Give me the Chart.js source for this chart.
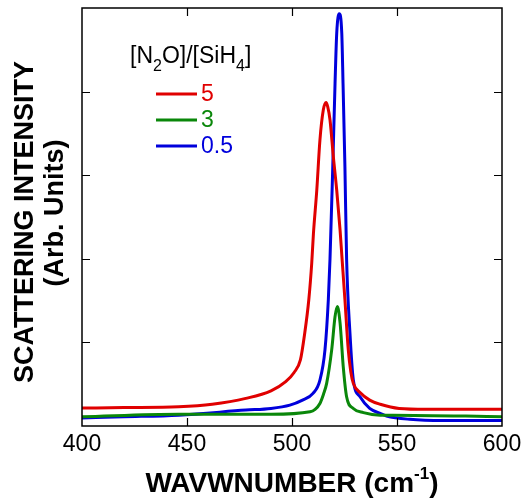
<!DOCTYPE html>
<html>
<head>
<meta charset="utf-8">
<script src="https://cdn.jsdelivr.net/npm/chart.js@4/dist/chart.umd.min.js"></script>
<style>
  html, body { margin: 0; padding: 0; background: #fff; }
  #wrap { width: 522px; height: 500px; }
</style>
</head>
<body>
<div id="wrap"><canvas id="ramanChart"></canvas></div>
<script>
// values (wavenumber in cm-1, intensity in arb. units)
const xTicks = [400, 450, 500, 550, 600];
const seriesNames = ["5", "3", "0.5"];
const seriesColors = ["#e00000", "#0a870a", "#0000dc"];

const redX = [400, 420, 446, 462, 478, 490, 497, 501, 504, 506, 508, 509.4, 510.2, 511.8, 513.3, 514.9, 516.2, 517, 518.1, 519.7, 521.3, 522.9, 523.7, 525.2, 526.8, 528, 529.2, 532.4, 537, 542, 551, 564, 600];
const redY = [0.215, 0.22, 0.23, 0.26, 0.33, 0.42, 0.53, 0.64, 0.79, 1.1, 1.51, 1.95, 2.3, 2.82, 3.42, 3.78, 3.87, 3.82, 3.66, 3.22, 2.82, 2.34, 2.05, 1.51, 0.91, 0.65, 0.51, 0.4, 0.31, 0.26, 0.21, 0.2, 0.2];

const greenX = [400, 446, 490, 508.6, 511, 513.3, 515, 516.5, 518.9, 520.5, 521.6, 522.9, 524.4, 526, 529.2, 534, 542, 548, 600];
const greenY = [0.11, 0.14, 0.14, 0.17, 0.2, 0.27, 0.38, 0.51, 0.91, 1.31, 1.43, 1.23, 0.71, 0.35, 0.21, 0.16, 0.13, 0.13, 0.11];

const blueX = [400, 420, 446, 478, 490, 499, 505, 510, 513.3, 515.7, 517.3, 518.1, 519.3, 520.5, 521.3, 522.5, 523.7, 524.3, 525.2, 526, 527.6, 529.2, 532.4, 537, 542, 545, 556, 572, 600];
const blueY = [0.096, 0.11, 0.13, 0.19, 0.21, 0.25, 0.31, 0.39, 0.55, 0.91, 1.51, 2.0, 3.0, 4.1, 4.7, 4.93, 4.7, 4.1, 3.1, 2.0, 1.11, 0.55, 0.35, 0.21, 0.15, 0.12, 0.08, 0.065, 0.065];

function toPoints(xs, ys) {
  return xs.map((x, i) => ({ x: x, y: ys[i] }));
}

const FONT = "Arial, 'Liberation Sans', sans-serif";

// frame, inward ticks, legend and axis titles
const decor = {
  id: "decor",
  afterDraw(chart) {
    const c = chart.ctx;
    const a = chart.chartArea;
    const xs = chart.scales.x, ys = chart.scales.y;
    c.save();
    c.strokeStyle = "#000";
    c.lineWidth = 1.5;
    c.strokeRect(a.left, a.top, a.right - a.left, a.bottom - a.top);

    // inward ticks
    c.lineWidth = 1.2;
    c.beginPath();
    xTicks.slice(1, -1).forEach(v => {
      const px = Math.round(xs.getPixelForValue(v)) + 0.5;
      c.moveTo(px, a.bottom); c.lineTo(px, a.bottom - 8);
      c.moveTo(px, a.top); c.lineTo(px, a.top + 8);
    });
    [1, 2, 3, 4].forEach(v => {
      const py = Math.round(ys.getPixelForValue(v)) + 0.5;
      c.moveTo(a.left, py); c.lineTo(a.left + 8, py);
      c.moveTo(a.right, py); c.lineTo(a.right - 8, py);
    });
    c.stroke();

    // legend title [N2O]/[SiH4]
    c.fillStyle = "#000";
    c.textBaseline = "alphabetic";
    c.textAlign = "left";
    let tx = 130;
    const ty = 63;
    const parts = [["[N", 0], ["2", 1], ["O]/[SiH", 0], ["4", 1], ["]", 0]];
    parts.forEach(p => {
      c.font = p[1] ? "16px " + FONT : "23px " + FONT;
      c.fillText(p[0], tx, p[1] ? ty + 8 : ty);
      tx += c.measureText(p[0]).width;
    });

    // legend entries
    const rows = [94, 120, 146];
    seriesNames.forEach((name, i) => {
      c.strokeStyle = seriesColors[i];
      c.lineWidth = 3;
      c.beginPath();
      c.moveTo(156, rows[i]); c.lineTo(197, rows[i]);
      c.stroke();
      c.fillStyle = seriesColors[i];
      c.font = "23px " + FONT;
      c.textBaseline = "middle";
      c.fillText(name, 201, rows[i] + 1);
    });

    // x title with superscript
    c.fillStyle = "#000";
    c.textBaseline = "alphabetic";
    const main = "WAVWNUMBER (cm";
    c.font = "bold 28px " + FONT;
    const w1 = c.measureText(main).width;
    c.font = "bold 17px " + FONT;
    const w2 = c.measureText("-1").width;
    c.font = "bold 28px " + FONT;
    const w3 = c.measureText(")").width;
    let sx = (a.left + a.right) / 2 - (w1 + w2 + w3) / 2;
    c.fillText(main, sx, 492);
    c.font = "bold 17px " + FONT;
    c.fillText("-1", sx + w1, 479);
    c.font = "bold 28px " + FONT;
    c.fillText(")", sx + w1 + w2, 492);

    // y title, two lines
    c.rotate(-Math.PI / 2);
    c.textAlign = "center";
    c.font = "bold 27px " + FONT;
    c.fillText("SCATTERING INTENSITY", -222, 33);
    c.fillText("(Arb. Units)", -213, 63);
    c.restore();
  }
};

const datasets = [
  { label: seriesNames[0], data: toPoints(redX, redY), borderColor: seriesColors[0] },
  { label: seriesNames[1], data: toPoints(greenX, greenY), borderColor: seriesColors[1] },
  { label: seriesNames[2], data: toPoints(blueX, blueY), borderColor: seriesColors[2] }
].map(d => Object.assign(d, {
  showLine: true,
  pointRadius: 0,
  borderWidth: 3,
  cubicInterpolationMode: "monotone",
  fill: false
}));

new Chart(document.getElementById("ramanChart"), {
  type: "scatter",
  data: { datasets: datasets },
  options: {
    responsive: true,
    maintainAspectRatio: false,
    animation: false,
    layout: { padding: { top: 8, right: 20, left: 0, bottom: 0 } },
    plugins: { legend: { display: false }, tooltip: { enabled: false } },
    scales: {
      x: {
        type: "linear",
        min: 400, max: 600,
        afterBuildTicks: s => { s.ticks = xTicks.map(v => ({ value: v })); },
        afterFit: s => { s.height = 74; s.paddingLeft = 0; s.paddingRight = 0; },
        grid: { display: false, drawTicks: false },
        border: { display: false },
        ticks: { padding: 5, color: "#000", font: { family: FONT, size: 23 } }
      },
      y: {
        min: 0, max: 5,
        afterFit: s => { s.width = 82; },
        grid: { display: false, drawTicks: false },
        border: { display: false },
        ticks: { display: false, stepSize: 1 }
      }
    }
  },
  plugins: [decor]
});
</script>
</body>
</html>
